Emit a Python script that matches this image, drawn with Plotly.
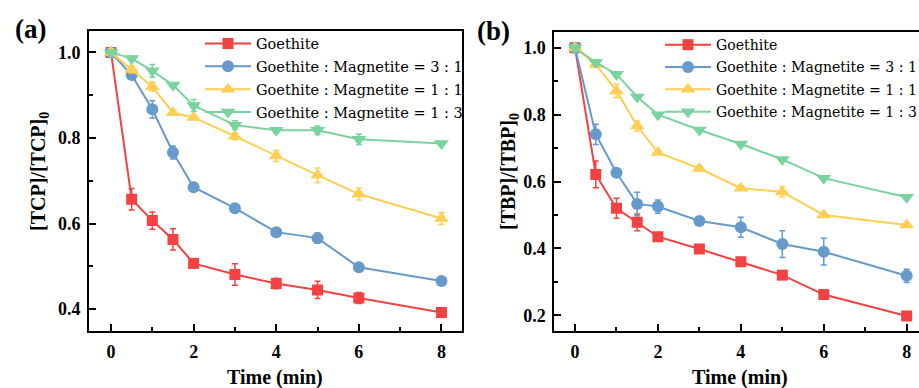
import plotly.graph_objects as go

# ---------------- data ----------------
time_min = [0, 0.5, 1, 1.5, 2, 3, 4, 5, 6, 8]
series_names = ["Goethite", "Goethite : Magnetite = 3 : 1",
                "Goethite : Magnetite = 1 : 1", "Goethite : Magnetite = 1 : 3"]

# panel (a) TCP
tcp_goethite = [1.0, 0.657, 0.607, 0.563, 0.507, 0.481, 0.460, 0.445, 0.426, 0.392]
tcp_goethite_err = [0.008, 0.025, 0.02, 0.025, 0.006, 0.025, 0.012, 0.02, 0.013, 0.006]
tcp_gm31 = [1.0, 0.947, 0.867, 0.766, 0.685, 0.636, 0.580, 0.566, 0.498, 0.466]
tcp_gm31_err = [0.004, 0.006, 0.02, 0.015, 0.005, 0.005, 0.006, 0.012, 0.005, 0.005]
tcp_gm11 = [1.0, 0.960, 0.920, 0.859, 0.848, 0.804, 0.758, 0.713, 0.669, 0.612]
tcp_gm11_err = [0.008, 0.008, 0.01, 0.005, 0.005, 0.008, 0.013, 0.017, 0.014, 0.014]
tcp_gm13 = [1.0, 0.986, 0.957, 0.924, 0.876, 0.830, 0.818, 0.818, 0.797, 0.787]
tcp_gm13_err = [0.005, 0.005, 0.015, 0.005, 0.014, 0.01, 0.005, 0.01, 0.012, 0.005]

# panel (b) TBP
tbp_goethite = [1.0, 0.621, 0.520, 0.478, 0.435, 0.398, 0.360, 0.320, 0.262, 0.198]
tbp_goethite_err = [0.006, 0.04, 0.03, 0.025, 0.01, 0.008, 0.008, 0.01, 0.008, 0.012]
tbp_gm31 = [1.0, 0.741, 0.626, 0.533, 0.525, 0.482, 0.463, 0.413, 0.390, 0.318]
tbp_gm31_err = [0.006, 0.03, 0.006, 0.035, 0.02, 0.008, 0.03, 0.04, 0.04, 0.02]
tbp_gm11 = [1.0, 0.950, 0.871, 0.766, 0.687, 0.639, 0.580, 0.569, 0.500, 0.470]
tbp_gm11_err = [0.01, 0.008, 0.02, 0.015, 0.006, 0.006, 0.006, 0.015, 0.006, 0.006]
tbp_gm13 = [1.0, 0.956, 0.921, 0.853, 0.800, 0.754, 0.712, 0.666, 0.610, 0.553]
tbp_gm13_err = [0.005, 0.008, 0.005, 0.005, 0.005, 0.005, 0.005, 0.005, 0.005, 0.005]

x_tick_vals = [0, 2, 4, 6, 8]
ya_tick_vals = [0.4, 0.6, 0.8, 1.0]
yb_tick_vals = [0.2, 0.4, 0.6, 0.8, 1.0]

colors = ["#F44141", "#6699CC", "#FFCE55", "#78D49C"]
symbols = ["square", "circle", "triangle-up", "triangle-down"]
msizes = [11, 12, 13, 13]

FONT = "Liberation Serif"
LEG_FONT = "DejaVu Serif"

fig = go.Figure()

panel_a = [(tcp_goethite, tcp_goethite_err), (tcp_gm31, tcp_gm31_err),
           (tcp_gm11, tcp_gm11_err), (tcp_gm13, tcp_gm13_err)]
panel_b = [(tbp_goethite, tbp_goethite_err), (tbp_gm31, tbp_gm31_err),
           (tbp_gm11, tbp_gm11_err), (tbp_gm13, tbp_gm13_err)]

for panel, (xa, ya, lg, tag) in zip([panel_a, panel_b],
                                    [("x", "y", "legend", "a"), ("x2", "y2", "legend2", "b")]):
    for i, (vals, errs) in enumerate(panel):
        fig.add_trace(go.Scatter(
            x=time_min, y=vals, mode="lines+markers", name=series_names[i],
            xaxis=xa, yaxis=ya, legend=lg, legendgroup=f"{tag}{i}",
            line=dict(color=colors[i], width=2),
            marker=dict(symbol=symbols[i], size=msizes[i], color=colors[i], line=dict(width=0)),
            error_y=dict(type="data", array=errs, visible=True, color=colors[i], thickness=1.5, width=3),
        ))

W, H = 919, 388

def px_x(p):
    return p / W

def px_y(p):
    return 1 - p / H

axis_common = dict(
    showline=True, linecolor="black", linewidth=2,
    ticks="inside", ticklen=7, tickwidth=2, tickcolor="black",
    showgrid=False, zeroline=False,
    tickfont=dict(family=FONT, size=18, color="black", weight="bold"),
    ticklabelstandoff=3,
)
minor_common = dict(ticks="inside", ticklen=4, tickwidth=2, tickcolor="black", tick0=0)
leg_common = dict(xanchor="left", yanchor="top", bgcolor="rgba(0,0,0,0)",
                  tracegroupgap=1, itemwidth=46, groupclick="toggleitem")

fig.update_layout(
    width=W, height=H,
    margin=dict(l=0, r=0, t=0, b=0, autoexpand=False),
    font=dict(family=FONT, color="black"),
    paper_bgcolor="white", plot_bgcolor="white",
    xaxis=dict(domain=[px_x(89), px_x(461.5)], range=[-0.533, 8.485], anchor="y",
               tickvals=x_tick_vals, mirror=True, minor=dict(dtick=1, **minor_common),
               **axis_common),
    yaxis=dict(domain=[px_y(331), px_y(31)], range=[0.349, 1.05], anchor="x",
               tickvals=ya_tick_vals, ticktext=[f"{v:.1f}" for v in ya_tick_vals], mirror=True,
               minor=dict(dtick=0.1, **minor_common), **axis_common),
    xaxis2=dict(domain=[px_x(554.3), 1.0], range=[-0.5, 8.297], anchor="y2",
                tickvals=x_tick_vals, mirror=True, minor=dict(dtick=1, **minor_common),
                **axis_common),
    yaxis2=dict(domain=[px_y(331), px_y(31.7)], range=[0.153, 1.048], anchor="x2",
                tickvals=yb_tick_vals, ticktext=[f"{v:.1f}" for v in yb_tick_vals], mirror=False,
                minor=dict(dtick=0.1, **minor_common), **axis_common),
    legend=dict(x=px_x(200), y=px_y(27.5),
                font=dict(family=LEG_FONT, size=14.5, color="black"), **leg_common),
    legend2=dict(x=px_x(660), y=px_y(29),
                 font=dict(family=LEG_FONT, size=14.1, color="black"), **leg_common),
    showlegend=True,
)

ann_font = dict(family=FONT, color="black", weight="bold")
annotations = [
    dict(text="(a)", x=px_x(30), y=px_y(29), font=dict(size=27, **ann_font)),
    dict(text="(b)", x=px_x(493), y=px_y(31), font=dict(size=27, **ann_font)),
    dict(text="Time (min)", x=px_x(275), y=px_y(377), font=dict(size=20, **ann_font)),
    dict(text="Time (min)", x=px_x(740), y=px_y(377), font=dict(size=20, **ann_font)),
    dict(text="[TCP]/[TCP]<sub>0</sub>", x=px_x(39), y=px_y(172), textangle=-90, font=dict(size=20, **ann_font)),
    dict(text="[TBP]/[TBP]<sub>0</sub>", x=px_x(509), y=px_y(172), textangle=-90, font=dict(size=20, **ann_font)),
]
for a in annotations:
    a.update(xref="paper", yref="paper", showarrow=False, xanchor="center", yanchor="middle")
fig.update_layout(annotations=annotations)

fig.write_html("out.html")
